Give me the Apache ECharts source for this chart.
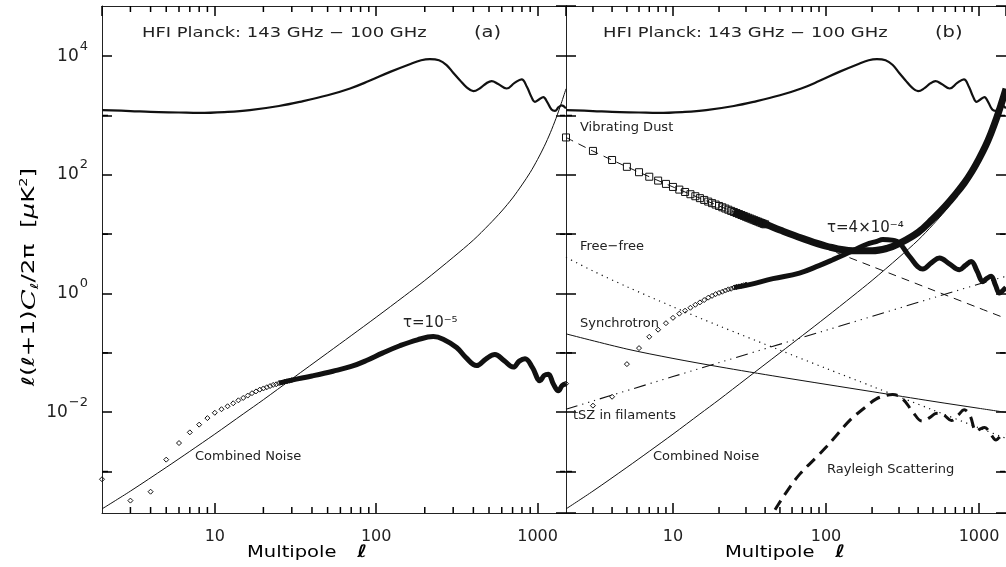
<!DOCTYPE html>
<html>
<head>
<meta charset="utf-8">
<script src="https://cdn.jsdelivr.net/npm/echarts@6/dist/echarts.min.js"></script>
<style>
  html, body { margin: 0; padding: 0; background: #fff; }
  #chart { width: 1006px; height: 567px; }
</style>
</head>
<body>
<div id="chart"></div>
<script>
// Axis ranges (multipole l, and l(l+1)C_l/2pi in uK^2)
const L_MIN = 2, L_MAX = 1500;
const Y_MIN = 2e-4, Y_MAX = 7e4;

// Tick positions
const xMajorTicks = [10, 100, 1000];
const xMinorTicks = [3, 4, 5, 6, 7, 8, 9, 20, 30, 40, 50, 60, 70, 80, 90, 200, 300, 400, 500, 600, 700, 800, 900];
const yMajorTicks = [1e-2, 1, 1e2, 1e4];
const yMinorTicks = [1e-3, 1e-1, 1e1, 1e3];

// All spectra below are given as log10 of l(l+1)C_l/2pi [uK^2]
// CMB temperature spectrum
const cmbL = [2, 3, 4, 6, 8, 12, 16.5, 25, 33.7, 50, 68.9, 90, 122, 160, 190, 215, 245, 273, 300, 330,
  365, 400, 440, 480, 519, 570, 643, 720, 796, 860, 910, 963, 1020, 1085, 1150, 1220, 1282, 1350, 1410, 1500];
const cmbLog = [3.09, 3.075, 3.06, 3.05, 3.043, 3.06, 3.09, 3.16, 3.23, 3.34, 3.455, 3.58, 3.735, 3.86, 3.93, 3.95, 3.93, 3.85, 3.72, 3.595,
  3.47, 3.41, 3.46, 3.54, 3.58, 3.53, 3.455, 3.55, 3.61, 3.48, 3.33, 3.23, 3.27, 3.31, 3.22, 3.10, 3.077, 3.14, 3.17, 3.12];

// Combined instrumental noise
const noiseL = [2, 3, 5, 7, 10, 15, 20, 30, 50, 70, 100, 150, 200, 300, 400, 500, 600, 700, 800, 900, 1000, 1100, 1200, 1300, 1400, 1500];
const noiseLog = [-3.63, -3.33, -2.93, -2.66, -2.37, -2.03, -1.79, -1.44, -1.00, -0.71, -0.40, -0.04, 0.22, 0.61, 0.90, 1.16, 1.39, 1.61, 1.83, 2.04, 2.26, 2.48, 2.71, 2.95, 3.20, 3.45];

// Low multipoles drawn one symbol per l
const lowL = [2, 3, 4, 5, 6, 7, 8, 9, 10, 11, 12, 13, 14, 15, 16, 17, 18, 19, 20, 21, 22, 23, 24, 25, 26, 27, 28, 29, 30];
const dustSymL = [2, 3, 4, 5, 6, 7, 8, 9, 10, 11, 12, 13, 14, 15, 16, 17, 18, 19, 20, 21, 22, 23, 24, 25, 26, 27, 28, 29, 30,
  31, 32, 33, 34, 35, 36, 37, 38, 39, 40];

// tau = 1e-5 signal (panel a)
const tauALowLog = [-3.13, -3.49, -3.34, -2.80, -2.52, -2.34, -2.21, -2.10, -2.01, -1.95, -1.90, -1.85, -1.80, -1.76, -1.72, -1.68, -1.65, -1.62, -1.60, -1.58, -1.56, -1.54, -1.53, -1.51, -1.50, -1.49, -1.48, -1.47, -1.46];
const tauAL = [25, 30, 40, 54, 70, 87, 110, 140, 180, 226, 260, 315, 360, 419, 480, 544, 620, 707, 770, 836, 930, 1035, 1100, 1166, 1250, 1346, 1420, 1500];
const tauALog = [-1.51, -1.46, -1.39, -1.31, -1.23, -1.13, -1.00, -0.88, -0.78, -0.726, -0.77, -0.91, -1.08, -1.215, -1.10, -1.03, -1.13, -1.24, -1.14, -1.10, -1.25, -1.47, -1.38, -1.36, -1.52, -1.64, -1.55, -1.52];

// tau = 4e-4 signal (panel b)
const tauBLowLog = [-1.52, -1.89, -1.74, -1.19, -0.92, -0.73, -0.61, -0.50, -0.41, -0.34, -0.29, -0.24, -0.19, -0.15, -0.11, -0.07, -0.04, -0.01, 0.01, 0.03, 0.05, 0.07, 0.08, 0.10, 0.11, 0.12, 0.13, 0.14, 0.15];
const tauBL = [25, 31.6, 45, 67, 90, 111, 150, 183, 215, 235, 270, 302, 351, 429, 490, 551, 640, 745, 810, 888, 970, 1059, 1120, 1199, 1280, 1359, 1430, 1500];
const tauBLog = [0.10, 0.15, 0.25, 0.344, 0.47, 0.57, 0.72, 0.826, 0.88, 0.91, 0.90, 0.851, 0.626, 0.412, 0.52, 0.598, 0.50, 0.40, 0.47, 0.54, 0.38, 0.20, 0.25, 0.29, 0.14, 0.007, 0.05, 0.10];

// Vibrating dust residual plus noise (squares), and the dust model alone (dashed)
const dustLowLog = [2.630, 2.403, 2.250, 2.135, 2.044, 1.968, 1.903, 1.847, 1.796, 1.751, 1.711, 1.673, 1.639, 1.607, 1.577, 1.549, 1.523, 1.499, 1.475, 1.453, 1.432, 1.412, 1.392, 1.374, 1.356, 1.339, 1.323, 1.307, 1.292,
  1.277, 1.263, 1.249, 1.236, 1.223, 1.211, 1.198, 1.187, 1.175, 1.166];
const dustNoiseL = [25, 30, 40, 50, 70, 100, 150, 200, 250, 300, 400, 500, 600, 700, 800, 900, 1000, 1100, 1200, 1300, 1400, 1500];
const dustNoiseLog = [1.38, 1.29, 1.17, 1.07, 0.93, 0.80, 0.72, 0.72, 0.76, 0.84, 1.03, 1.26, 1.47, 1.67, 1.86, 2.06, 2.27, 2.48, 2.71, 2.95, 3.20, 3.45];
const dustL = [2, 3, 5, 10, 20, 50, 100, 200, 500, 1000, 1500];
const dustLog = [2.63, 2.40, 2.135, 1.796, 1.475, 1.065, 0.759, 0.456, 0.057, -0.245, -0.421];

// Free-free
const ffL = [2, 3, 5, 10, 20, 50, 100, 200, 500, 1000, 1500];
const ffLog = [0.61, 0.38, 0.115, -0.224, -0.545, -0.955, -1.261, -1.564, -1.963, -2.265, -2.441];

// Synchrotron
const syncL = [2, 5, 10, 20, 50, 100, 200, 500, 1000, 1500];
const syncLog = [-0.68, -0.936, -1.094, -1.235, -1.407, -1.531, -1.654, -1.817, -1.935, -2.003];

// tSZ in filaments
const tszL = [2, 10, 100, 1000, 1500];
const tszLog = [-1.95, -1.40, -0.62, 0.16, 0.29];

// Rayleigh scattering
const rayL = [40, 44, 55, 67.6, 85, 101, 111, 144, 180, 212, 245, 273, 318, 370, 425, 470, 530, 590, 660, 730,
  800, 870, 960, 1020, 1090, 1160, 1230, 1290, 1350, 1420, 1500];
const rayLog = [-3.9, -3.74, -3.35, -3.04, -2.78, -2.58, -2.46, -2.13, -1.92, -1.78, -1.72, -1.70, -1.78, -2.0, -2.15, -2.10, -2.02, -2.05, -2.14, -2.05,
  -1.96, -2.05, -2.32, -2.28, -2.26, -2.32, -2.42, -2.47, -2.43, -2.38, -2.37];

const INK = '#111';
const AXIS = '#222';
const FONT = '"DejaVu Sans", sans-serif';

// Panel geometry
const GRID_TOP = 6, GRID_H = 507;
const GRID_W = [464, 442];

const pairs = (ls, logs) => ls.map((l, i) => [l, Math.pow(10, logs[i])]);

function lineSeries(panel, ls, logs, width, type, smooth) {
  return {
    type: 'line', xAxisIndex: panel, yAxisIndex: panel,
    data: pairs(ls, logs), showSymbol: false, symbol: 'none',
    smooth: smooth || 0, silent: true, z: 3,
    lineStyle: { color: INK, width: width, type: type || 'solid', cap: 'butt' }
  };
}
function symbolSeries(panel, ls, logs, symbol, size) {
  return {
    type: 'scatter', xAxisIndex: panel, yAxisIndex: panel,
    data: pairs(ls, logs), symbol: symbol, symbolSize: size, silent: true, z: 4,
    itemStyle: { color: 'rgba(0,0,0,0)', borderColor: INK, borderWidth: 1, opacity: 1 }
  };
}

// Short inward minor ticks as tiny segments on each side of a panel.
// A tick of `len` pixels spans a factor of 10^(len / pixels-per-decade) along the log axis.
function minorTickSeries(panel) {
  const decY = GRID_H / Math.log10(Y_MAX / Y_MIN);
  const decX = GRID_W[panel] / Math.log10(L_MAX / L_MIN);
  const fy = len => Math.pow(10, len / decY);
  const fx = len => Math.pow(10, len / decX);
  const out = [];
  const seg = (a, b) => out.push({
    type: 'line', xAxisIndex: panel, yAxisIndex: panel, data: [a, b],
    showSymbol: false, symbol: 'none', silent: true, z: 6, clip: false,
    lineStyle: { color: '#000', width: 1.5, cap: 'butt' }
  });
  xMinorTicks.forEach(v => {
    seg([v, Y_MIN], [v, Y_MIN * fy(6)]);
    seg([v, Y_MAX], [v, Y_MAX / fy(6)]);
  });
  yMinorTicks.forEach(v => {
    seg([L_MIN * fx(1), v], [L_MIN * fx(6), v]);
    seg([L_MAX / fx(1), v], [L_MAX / fx(6), v]);
  });
  return out;
}

// Log axes; the extra copies on the top and right only carry inward major ticks
function xAxisDef(panel, position, withLabels) {
  return {
    gridIndex: panel, type: 'log', logBase: 10, min: L_MIN, max: L_MAX, position: position,
    axisLine: { show: true, onZero: false, lineStyle: { color: AXIS, width: 1 } },
    axisTick: { show: true, inside: true, length: 10, lineStyle: { color: '#000', width: 1.5 } },
    splitLine: { show: false },
    axisLabel: withLabels ? {
      show: true, margin: 16, color: '#222', fontSize: 16, fontFamily: FONT,
      showMinLabel: false, showMaxLabel: false,
      formatter: function (v) {
        const e = Math.log10(v);
        return Math.abs(e - Math.round(e)) < 1e-6 ? String(Math.round(v)) : '';
      }
    } : { show: false }
  };
}
function yAxisDef(panel, position, withLabels) {
  return {
    gridIndex: panel, type: 'log', logBase: 10, min: Y_MIN, max: Y_MAX, position: position,
    axisLine: { show: true, onZero: false, lineStyle: { color: AXIS, width: 1 } },
    axisTick: {
      show: true, inside: true, length: 10, lineStyle: { color: '#000', width: 1.5 },
      interval: function (index, value) {
        const e = Math.log10(value);
        return Math.abs(e - Math.round(e)) < 1e-6 && Math.round(e) % 2 === 0;
      }
    },
    splitLine: { show: false },
    axisLabel: withLabels ? {
      show: true, margin: 14, color: '#222', fontFamily: FONT,
      showMinLabel: false, showMaxLabel: false,
      formatter: function (v) {
        const le = Math.log10(v);
        const e = Math.round(le);
        if (Math.abs(le - e) > 1e-6 || e % 2 !== 0) return '';
        return '{b|10}{s|' + (e < 0 ? '\u2212' + (-e) : e) + '}';
      },
      rich: {
        b: { fontSize: 17, fontFamily: FONT, color: '#222' },
        s: { fontSize: 13, fontFamily: FONT, color: '#222', padding: [0, 0, 20, 1] }
      }
    } : { show: false }
  };
}

function label(x, y, text, size, extra) {
  return Object.assign({
    type: 'text', x: x, y: y, silent: true, z: 10,
    style: { text: text, fontSize: size, fontFamily: FONT, fill: '#222', align: 'left', verticalAlign: 'middle' }
  }, extra || {});
}

const labels = [
  label(142, 33, 'HFI Planck: 143 GHz \u2212 100 GHz', 14, { scaleX: 1.28 }),
  label(474, 33, '(a)', 15, { scaleX: 1.3 }),
  label(603, 33, 'HFI Planck: 143 GHz \u2212 100 GHz', 14, { scaleX: 1.28 }),
  label(935, 33, '(b)', 15, { scaleX: 1.3 }),
  label(403, 323, '\u03C4=10\u207B\u2075', 15),
  label(195, 457, 'Combined Noise', 13),
  label(580, 128, 'Vibrating Dust', 13),
  label(580, 247, 'Free\u2212free', 13),
  label(827, 228, '\u03C4=4\u00D710\u207B\u2074', 15),
  label(580, 324, 'Synchrotron', 13),
  label(573, 416, 'tSZ in filaments', 13),
  label(653, 457, 'Combined Noise', 13),
  label(827, 470, 'Rayleigh Scattering', 13)
];
[247, 725].forEach(x => labels.push({
  type: 'text', x: x, y: 553, silent: true, scaleX: 1.22,
  style: {
    text: '{a|Multipole}{l|\u2113}', align: 'left', verticalAlign: 'middle',
    rich: {
      a: { fontSize: 16, fontFamily: FONT, color: '#222' },
      l: { fontSize: 17, fontFamily: FONT, fontStyle: 'italic', fontWeight: 'bold', color: '#222', padding: [0, 0, 0, 17] }
    }
  }
}));
labels.push({
  type: 'text', x: 30, y: 277, rotation: Math.PI / 2, scaleX: 1.45, silent: true,
  style: {
    text: '{n|\u2113(\u2113+1)}{c|C}{sub|\u2113}{n|/2\u03C0  [}{m|\u03BC}{n|K}{sup|2}{n|]}',
    align: 'center', verticalAlign: 'middle',
    rich: {
      n: { fontSize: 17, fontFamily: FONT, color: '#222' },
      m: { fontSize: 17, fontFamily: FONT, fontStyle: 'italic', color: '#222' },
      c: { fontSize: 19, fontFamily: '"DejaVu Serif", serif', fontStyle: 'italic', color: '#222' },
      sub: { fontSize: 11, fontFamily: FONT, color: '#222', padding: [10, 0, 0, 0] },
      sup: { fontSize: 10, fontFamily: FONT, color: '#222', padding: [0, 0, 12, 0] }
    }
  }
});

const chart = echarts.init(document.getElementById('chart'), null, { renderer: 'canvas' });
chart.setOption({
  animation: false,
  backgroundColor: '#fff',
  textStyle: { fontFamily: FONT },
  grid: [
    { left: 102, top: GRID_TOP, width: GRID_W[0], height: GRID_H, show: false, containLabel: false },
    { left: 566, top: GRID_TOP, width: GRID_W[1], height: GRID_H, show: false, containLabel: false }
  ],
  xAxis: [xAxisDef(0, 'bottom', true), xAxisDef(1, 'bottom', true), xAxisDef(0, 'top', false), xAxisDef(1, 'top', false)],
  yAxis: [yAxisDef(0, 'left', true), yAxisDef(1, 'left', false), yAxisDef(0, 'right', false), yAxisDef(1, 'right', false)],
  graphic: labels,
  series: [
    // panel (a)
    lineSeries(0, cmbL, cmbLog, 2.2, 'solid', 0.4),
    lineSeries(0, noiseL, noiseLog, 1, 'solid', 0.3),
    lineSeries(0, tauAL, tauALog, 5, 'solid', 0.4),
    symbolSeries(0, lowL, tauALowLog, 'diamond', 5),
    // panel (b)
    lineSeries(1, cmbL, cmbLog, 2.2, 'solid', 0.4),
    lineSeries(1, noiseL, noiseLog, 1, 'solid', 0.3),
    lineSeries(1, dustL, dustLog, 1, [8, 6], 0.3),
    lineSeries(1, ffL, ffLog, 1.2, [1.2, 4.5], 0.3),
    lineSeries(1, syncL, syncLog, 1, 'solid', 0.3),
    lineSeries(1, tszL, tszLog, 1.1, [12, 5, 1.2, 5, 1.2, 5, 1.2, 5], 0.3),
    lineSeries(1, rayL, rayLog, 3, [11, 7], 0.4),
    lineSeries(1, dustNoiseL, dustNoiseLog, 7, 'solid', 0.4),
    symbolSeries(1, dustSymL, dustLowLog, 'rect', 7),
    lineSeries(1, tauBL, tauBLog, 5, 'solid', 0.4),
    symbolSeries(1, lowL, tauBLowLog, 'diamond', 5)
  ].concat(minorTickSeries(0), minorTickSeries(1))
});
</script>
</body>
</html>
